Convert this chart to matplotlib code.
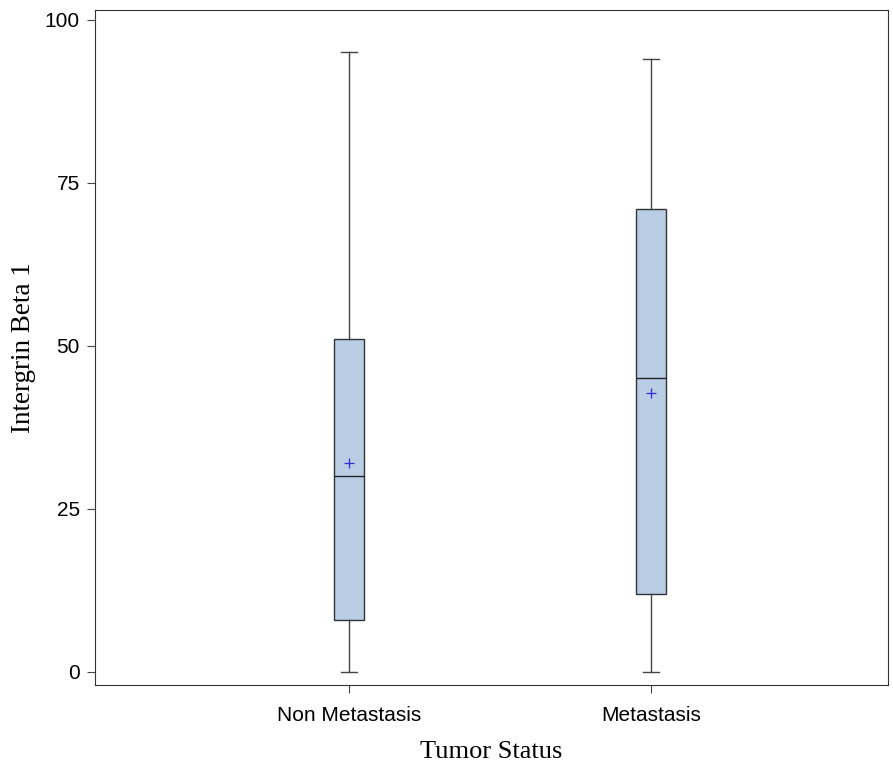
import matplotlib.pyplot as plt

categories = ["Non Metastasis", "Metastasis"]
whisker_low = [0, 0]
q1 = [8, 12]
medians = [30, 45]
q3 = [51, 71]
whisker_high = [95, 94]
means = [32, 42.7]

fig = plt.figure(figsize=(8.93, 7.64), dpi=100)
ax = fig.add_axes([95 / 893, 79 / 764, 793 / 893, 675 / 764])

stats = []
for i in range(len(categories)):
    stats.append({
        "label": categories[i],
        "whislo": whisker_low[i],
        "q1": q1[i],
        "med": medians[i],
        "q3": q3[i],
        "whishi": whisker_high[i],
        "mean": means[i],
        "fliers": [],
    })

ax.bxp(stats, positions=[1, 2], widths=0.1, patch_artist=True, showmeans=True,
       boxprops=dict(facecolor="#b9cde5", edgecolor="#333333", linewidth=1),
       medianprops=dict(color="#222222", linewidth=1),
       whiskerprops=dict(color="#444444", linewidth=1),
       capprops=dict(color="#444444", linewidth=1),
       capwidths=0.055,
       meanprops=dict(marker="+", markeredgecolor="#2f2fd0", markersize=7, markeredgewidth=0.9))

ax.set_xlim(0.159, 2.785)
ax.set_ylim(-2, 101.5)
ax.set_yticks([0, 25, 50, 75, 100])
ax.tick_params(labelsize=15, length=6, color="#444444")
ax.tick_params(axis="x", pad=9)
ax.tick_params(axis="y", pad=5)
for lab in ax.get_xticklabels() + ax.get_yticklabels():
    lab.set_family("Liberation Sans")
for s in ax.spines.values():
    s.set_color("#333333")

ax.set_xlabel("Tumor Status", family="Liberation Serif", fontsize=19, labelpad=12)
ax.set_ylabel("Intergrin Beta 1", family="Liberation Serif", fontsize=19.5, labelpad=6)

fig.savefig("out.png", dpi=100)
